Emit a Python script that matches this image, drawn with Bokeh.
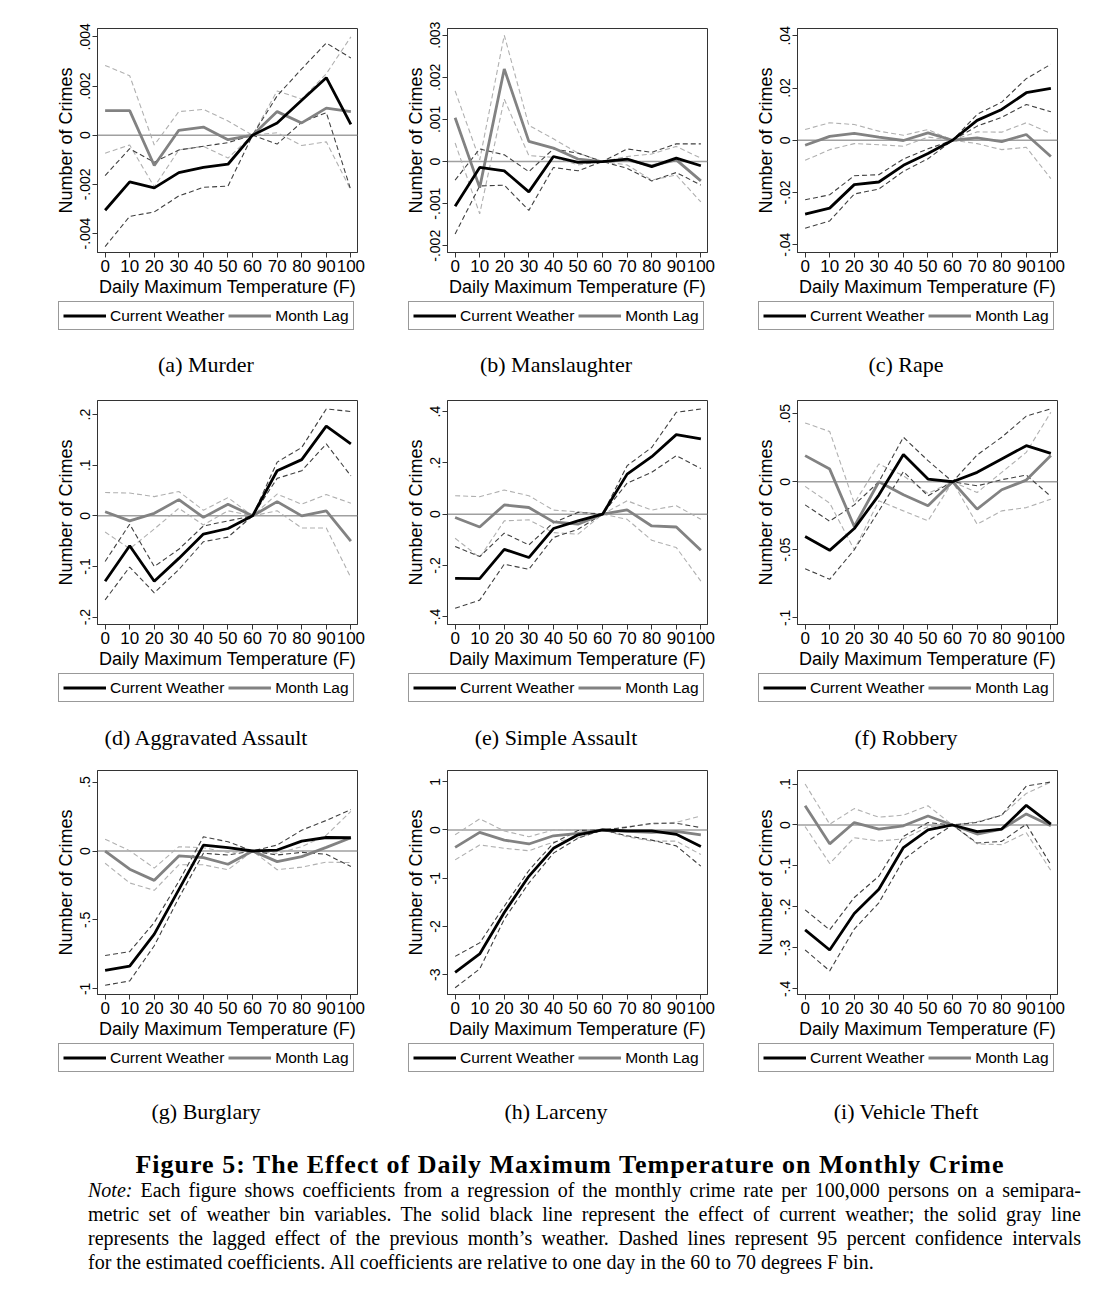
from bokeh.plotting import figure
from bokeh.models import FixedTicker, Legend, LegendItem, Div, Spacer, Span
from bokeh.layouts import column, row
from bokeh.embed import file_html
from bokeh.resources import INLINE

temps = [0, 10, 20, 30, 40, 50, 60, 70, 80, 90, 100]
temp_labels = ["0", "10", "20", "30", "40", "50", "60", "70", "80", "90", "100"]
series_names = ["Current Weather", "Month Lag"]

# ---------------- (a) Murder
murder_cur = [-0.00305, -0.0019, -0.00214, -0.00152, -0.00131, -0.00118, 0, 0.0005, 0.00142, 0.00234, 0.00044]
murder_cur_hi = [-0.00164, -0.00055, -0.0011, -0.0006, -0.00045, -0.0003, 0, 0.0016, 0.0027, 0.00375, 0.00314]
murder_cur_lo = [-0.00453, -0.0033, -0.00312, -0.00247, -0.00212, -0.00207, 0, -0.00036, 0.00053, 0.00092, -0.00223]
murder_lag = [0.001, 0.001, -0.00123, 0.0002, 0.00033, -0.00018, 0, 0.00096, 0.0005, 0.0011, 0.00096]
murder_lag_hi = [0.00284, 0.00242, -0.0004, 0.00096, 0.00105, 0.00058, 0, 0.0018, 0.00147, 0.0025, 0.004]
murder_lag_lo = [-0.00073, -0.0004, -0.0021, -0.0006, -0.00045, -0.00093, 0, 0.0001, -0.00042, -0.00027, -0.00223]
murder_yticks = [-0.004, -0.002, 0, 0.002, 0.004]
murder_ylabels = ["-.004", "-.002", "0", ".002", ".004"]

# ---------------- (b) Manslaughter
mans_cur = [-0.00106, -0.00014, -0.00022, -0.00072, 0.00012, -0.00002, 0, 0.00006, -0.00012, 0.00008, -0.0001]
mans_cur_hi = [-0.00044, 0.0003, 0.00016, -0.00024, 0.0003, 0.0002, 0, 0.0003, 0.00022, 0.00042, 0.00042]
mans_cur_lo = [-0.00172, -0.00058, -0.00056, -0.00116, -0.00014, -0.00022, 0, -0.00016, -0.00046, -0.00026, -0.00056]
mans_lag = [0.00104, -0.00062, 0.0022, 0.00048, 0.00032, 0.00006, 0, 0.00004, -0.0001, 0.00004, -0.00046]
mans_lag_hi = [0.00168, 0.00004, 0.003, 0.00086, 0.00054, 0.0002, 0, 0.00012, 0.00018, 0.00036, 0.00008]
mans_lag_lo = [0.00044, -0.00124, 0.00148, 0.00014, 0.0001, -0.00008, 0, -0.00008, -0.00044, -0.00032, -0.00096]
mans_yticks = [-0.002, -0.001, 0, 0.001, 0.002, 0.003]
mans_ylabels = ["-.002", "-.001", "0", ".001", ".002", ".003"]

# ---------------- (c) Rape
rape_cur = [-0.0283, -0.026, -0.017, -0.016, -0.0096, -0.0051, 0, 0.0076, 0.0118, 0.0182, 0.0199]
rape_cur_hi = [-0.0228, -0.0209, -0.0136, -0.0132, -0.0072, -0.0033, 0, 0.0099, 0.0146, 0.0236, 0.0291]
rape_cur_lo = [-0.0337, -0.0309, -0.0206, -0.0187, -0.0119, -0.0071, 0, 0.0054, 0.0088, 0.0137, 0.0109]
rape_lag = [-0.0019, 0.0015, 0.0026, 0.0012, -0.0001, 0.0028, 0, 0.0009, -0.0005, 0.0022, -0.0062]
rape_lag_hi = [0.0041, 0.0067, 0.006, 0.0035, 0.0019, 0.0041, 0, 0.0032, 0.0031, 0.0067, 0.0026]
rape_lag_lo = [-0.0077, -0.0036, -0.0013, -0.0017, -0.0023, 0.0012, 0, -0.0013, -0.0036, -0.0027, -0.0147]
rape_yticks = [-0.04, -0.02, 0, 0.02, 0.04]
rape_ylabels = ["-.04", "-.02", "0", ".02", ".04"]

# ---------------- (d) Aggravated Assault
agg_cur = [-0.129, -0.059, -0.129, -0.084, -0.036, -0.025, 0, 0.089, 0.111, 0.177, 0.142]
agg_cur_hi = [-0.09, -0.0165, -0.1, -0.066, -0.02, -0.01, 0, 0.106, 0.135, 0.211, 0.206]
agg_cur_lo = [-0.166, -0.101, -0.152, -0.106, -0.051, -0.042, 0, 0.074, 0.089, 0.142, 0.079]
agg_lag = [0.008, -0.01, 0.005, 0.032, -0.003, 0.023, 0, 0.028, 0.0, 0.01, -0.05]
agg_lag_hi = [0.046, 0.045, 0.038, 0.048, 0.011, 0.036, 0, 0.043, 0.023, 0.042, 0.025]
agg_lag_lo = [-0.032, -0.065, -0.026, 0.015, -0.018, 0.01, 0, 0.01, -0.024, -0.024, -0.122]
agg_yticks = [-0.2, -0.1, 0, 0.1, 0.2]
agg_ylabels = ["-.2", "-.1", "0", ".1", ".2"]

# ---------------- (e) Simple Assault
simp_cur = [-0.25, -0.251, -0.137, -0.169, -0.056, -0.026, 0, 0.156, 0.224, 0.31, 0.293]
simp_cur_hi = [-0.126, -0.165, -0.074, -0.12, -0.033, 0.007, 0, 0.189, 0.26, 0.397, 0.41]
simp_cur_lo = [-0.367, -0.335, -0.195, -0.215, -0.091, -0.059, 0, 0.121, 0.163, 0.228, 0.178]
simp_lag = [-0.013, -0.05, 0.036, 0.026, -0.03, -0.039, 0, 0.017, -0.046, -0.05, -0.141]
simp_lag_hi = [0.072, 0.068, 0.094, 0.072, 0.016, 0.009, 0, 0.052, 0.016, 0.033, -0.02]
simp_lag_lo = [-0.094, -0.169, -0.026, -0.022, -0.072, -0.078, 0, -0.02, -0.102, -0.13, -0.261]
simp_yticks = [-0.4, -0.2, 0, 0.2, 0.4]
simp_ylabels = ["-.4", "-.2", "0", ".2", ".4"]

# ---------------- (f) Robbery
rob_cur = [-0.0403, -0.0504, -0.0344, -0.0098, 0.02, 0.002, 0, 0.0069, 0.0167, 0.0265, 0.0209]
rob_cur_hi = [-0.017, -0.029, -0.017, 0.0, 0.0327, 0.0155, 0, 0.0197, 0.0327, 0.0482, 0.0536]
rob_cur_lo = [-0.0639, -0.0717, -0.05, -0.0214, 0.0074, -0.0103, 0, -0.003, 0.0015, 0.0049, -0.0108]
rob_lag = [0.0192, 0.0093, -0.0329, 0.0, -0.0096, -0.0177, 0, -0.0201, -0.0059, 0.0012, 0.0192]
rob_lag_hi = [0.0432, 0.0369, -0.0157, 0.013, 0.0044, -0.0086, 0, -0.0079, 0.0069, 0.0216, 0.0511]
rob_lag_lo = [-0.0034, -0.0157, -0.05, -0.014, -0.0214, -0.0287, 0, -0.0312, -0.0214, -0.019, -0.0128]
rob_yticks = [-0.1, -0.05, 0, 0.05]
rob_ylabels = ["-.1", "-.05", "0", ".05"]

# ---------------- (g) Burglary
burg_cur = [-0.866, -0.835, -0.603, -0.28, 0.043, 0.024, 0, 0.007, 0.072, 0.098, 0.096]
burg_cur_hi = [-0.758, -0.73, -0.519, -0.22, 0.103, 0.067, 0, 0.043, 0.151, 0.222, 0.301]
burg_cur_lo = [-0.974, -0.943, -0.687, -0.34, -0.017, -0.029, 0, -0.029, -0.01, -0.024, -0.112]
burg_lag = [0.0, -0.132, -0.213, -0.036, -0.048, -0.096, 0, -0.077, -0.041, 0.026, 0.096]
burg_lag_hi = [0.086, 0.002, -0.124, 0.031, 0.024, -0.01, 0, -0.017, 0.031, 0.115, 0.287]
burg_lag_lo = [-0.089, -0.232, -0.285, -0.1, -0.1, -0.136, 0, -0.136, -0.117, -0.081, -0.084]
burg_yticks = [-1, -0.5, 0, 0.5]
burg_ylabels = ["-1", "-.5", "0", ".5"]

# ---------------- (h) Larceny
larc_cur = [-2.95, -2.57, -1.71, -0.96, -0.38, -0.1, 0, -0.02, -0.02, -0.09, -0.34]
larc_cur_hi = [-2.62, -2.34, -1.58, -0.84, -0.27, -0.01, 0, 0.055, 0.14, 0.14, 0.05]
larc_cur_lo = [-3.27, -2.88, -1.85, -1.1, -0.48, -0.17, 0, -0.12, -0.21, -0.33, -0.75]
larc_lag = [-0.36, -0.05, -0.21, -0.29, -0.12, -0.07, 0, -0.03, -0.05, -0.03, -0.1]
larc_lag_hi = [-0.1, 0.23, -0.02, -0.14, 0.0, 0.0, 0, 0.07, 0.12, 0.16, 0.29]
larc_lag_lo = [-0.62, -0.31, -0.38, -0.43, -0.25, -0.16, 0, -0.14, -0.23, -0.23, -0.51]
larc_yticks = [-3, -2, -1, 0, 1]
larc_ylabels = ["-3", "-2", "-1", "0", "1"]

# ---------------- (i) Vehicle Theft
veh_cur = [-0.256, -0.305, -0.216, -0.157, -0.055, -0.012, 0, -0.016, -0.01, 0.048, 0.002]
veh_cur_hi = [-0.207, -0.256, -0.177, -0.125, -0.028, 0.006, 0, 0.006, 0.024, 0.095, 0.105]
veh_cur_lo = [-0.305, -0.356, -0.254, -0.19, -0.085, -0.039, 0, -0.044, -0.04, 0.002, -0.097]
veh_lag = [0.047, -0.046, 0.006, -0.01, -0.002, 0.022, 0, -0.022, -0.01, 0.027, -0.002]
veh_lag_hi = [0.1, 0.002, 0.04, 0.019, 0.024, 0.047, 0, 0.008, 0.024, 0.077, 0.105]
veh_lag_lo = [-0.004, -0.094, -0.031, -0.039, -0.034, -0.004, 0, -0.046, -0.048, -0.019, -0.111]
veh_yticks = [-0.4, -0.3, -0.2, -0.1, 0, 0.1]
veh_ylabels = ["-.4", "-.3", "-.2", "-.1", "0", ".1"]

captions = ["(a) Murder", "(b) Manslaughter", "(c) Rape",
            "(d) Aggravated Assault", "(e) Simple Assault", "(f) Robbery",
            "(g) Burglary", "(h) Larceny", "(i) Vehicle Theft"]

# y-axis extents
y_limits = [(-0.00477, 0.00434), (-0.00216, 0.00316), (-0.043, 0.0428),
            (-0.2145, 0.2277), (-0.43, 0.443), (-0.1049, 0.0597),
            (-1.041, 0.584), (-3.41, 1.233), (-0.4137, 0.133)]

panels = [
    (murder_cur, murder_cur_hi, murder_cur_lo, murder_lag, murder_lag_hi, murder_lag_lo, murder_yticks, murder_ylabels),
    (mans_cur, mans_cur_hi, mans_cur_lo, mans_lag, mans_lag_hi, mans_lag_lo, mans_yticks, mans_ylabels),
    (rape_cur, rape_cur_hi, rape_cur_lo, rape_lag, rape_lag_hi, rape_lag_lo, rape_yticks, rape_ylabels),
    (agg_cur, agg_cur_hi, agg_cur_lo, agg_lag, agg_lag_hi, agg_lag_lo, agg_yticks, agg_ylabels),
    (simp_cur, simp_cur_hi, simp_cur_lo, simp_lag, simp_lag_hi, simp_lag_lo, simp_yticks, simp_ylabels),
    (rob_cur, rob_cur_hi, rob_cur_lo, rob_lag, rob_lag_hi, rob_lag_lo, rob_yticks, rob_ylabels),
    (burg_cur, burg_cur_hi, burg_cur_lo, burg_lag, burg_lag_hi, burg_lag_lo, burg_yticks, burg_ylabels),
    (larc_cur, larc_cur_hi, larc_cur_lo, larc_lag, larc_lag_hi, larc_lag_lo, larc_yticks, larc_ylabels),
    (veh_cur, veh_cur_hi, veh_cur_lo, veh_lag, veh_lag_hi, veh_lag_lo, veh_yticks, veh_ylabels),
]

SANS = "Liberation Sans"
SERIF = "Liberation Serif"
FRAME = "#333333"
CUR_STYLE = dict(line_color="black", line_width=2.8)
LAG_STYLE = dict(line_color="#828282", line_width=2.8)


def make_panel(idx, top_border):
    cur, cur_hi, cur_lo, lag, lag_hi, lag_lo, yt, yl = panels[idx]
    lo, hi = y_limits[idx]
    p = figure(frame_width=260, frame_height=224, x_range=(-3.1, 102.7), y_range=(lo, hi),
               output_backend="svg", toolbar_location=None,
               min_border_left=77, min_border_right=13, min_border_top=top_border,
               min_border_bottom=49)
    p.background_fill_color = "white"
    p.border_fill_color = "white"
    p.outline_line_color = FRAME
    p.outline_line_width = 1
    p.grid.visible = False

    zero = Span(location=0, dimension="width", line_color="#a0a0a0", line_width=1.5, level="underlay")
    p.add_layout(zero)

    p.line(temps, lag_hi, line_color="#b0b0b0", line_width=1.1, line_dash="5 3")
    p.line(temps, lag_lo, line_color="#b0b0b0", line_width=1.1, line_dash="5 3")
    p.line(temps, cur_hi, line_color="#404040", line_width=1.1, line_dash="5 3")
    p.line(temps, cur_lo, line_color="#404040", line_width=1.1, line_dash="5 3")
    p.line(temps, lag, **LAG_STYLE)
    p.line(temps, cur, **CUR_STYLE)

    p.xaxis.ticker = FixedTicker(ticks=temps)
    p.xaxis.major_label_overrides = {t: s for t, s in zip(temps, temp_labels)}
    p.xaxis.axis_label = "Daily Maximum Temperature (F)"
    p.yaxis.ticker = FixedTicker(ticks=yt)
    p.yaxis.major_label_overrides = {t: s for t, s in zip(yt, yl)}
    p.yaxis.axis_label = "Number of Crimes"
    p.yaxis.major_label_orientation = "vertical"
    for ax in (p.xaxis, p.yaxis):
        ax.axis_line_color = FRAME
        ax.major_tick_line_color = FRAME
        ax.major_tick_out = 5
        ax.major_tick_in = 0
        ax.minor_tick_line_color = None
        ax.major_label_text_font = SANS
        ax.major_label_text_color = "black"
        ax.axis_label_text_font = SANS
        ax.axis_label_text_font_style = "normal"
        ax.axis_label_text_color = "black"
        ax.axis_label_text_font_size = "18px"
        ax.major_label_standoff = 2
        ax.axis_label_standoff = 2
    p.xaxis.major_label_text_font_size = "17px"
    p.yaxis.major_label_text_font_size = "14px"
    return p


def make_legend(idx):
    # legend strip: its renderers use the panel's own series but lie outside the strip's range
    cur, lag = panels[idx][0], panels[idx][3]
    q = figure(width=350, height=31, x_range=(-300, -200), y_range=(0, 1),
               x_axis_type=None, y_axis_type=None, output_backend="svg",
               toolbar_location=None, min_border=0)
    q.min_border_left = q.min_border_right = q.min_border_top = q.min_border_bottom = 0
    q.outline_line_color = None
    q.grid.visible = False
    r1 = q.line(temps, cur, **CUR_STYLE)
    r2 = q.line(temps, lag, **LAG_STYLE)
    legend = Legend(items=[LegendItem(label=series_names[0], renderers=[r1]),
                           LegendItem(label=series_names[1], renderers=[r2])],
                    location=(38, 2), orientation="horizontal")
    legend.label_text_font = SANS
    legend.label_text_font_size = "15.5px"
    legend.label_text_color = "black"
    legend.glyph_width = 43
    legend.glyph_height = 19
    legend.label_height = 19
    legend.label_standoff = 4
    legend.spacing = 4
    legend.padding = 4
    legend.margin = 0
    legend.border_line_color = FRAME
    legend.border_line_width = 1
    legend.background_fill_color = "white"
    legend.background_fill_alpha = 1
    q.add_layout(legend)
    return q


def caption_row(start, h, pad):
    divs = [Spacer(width=31, height=h, margin=0)]
    for k in range(3):
        html = (f'<div style="padding-top:{pad}px; line-height:22px; text-align:center; '
                f'font-family:\'{SERIF}\'; font-size:22px; color:black; width:350px;">'
                f'{captions[start + k]}</div>')
        divs.append(Div(text=html, width=350, height=h, margin=0))
    return row(*divs, spacing=0)


rows = []
tops = [28, 20, 18]
cap_h = [48, 48, 55]
cap_pad = [22, 23, 27]
for r in range(3):
    figs = [make_panel(r * 3 + c, tops[r]) for c in range(3)]
    rows.append(row(Spacer(width=20, margin=0), *figs, spacing=0))
    legs = [make_legend(r * 3 + c) for c in range(3)]
    rows.append(row(Spacer(width=20, margin=0), *legs, spacing=0))
    rows.append(caption_row(r * 3, cap_h[r], cap_pad[r]))

title_text = "Figure 5: The Effect of Daily Maximum Temperature on Monthly Crime"
note_lines = [
    "<i>Note:</i> Each figure shows coefficients from a regression of the monthly crime rate per 100,000 persons on a semipara-",
    "metric set of weather bin variables. The solid black line represent the effect of current weather; the solid gray line",
    "represents the lagged effect of the previous month\u2019s weather. Dashed lines represent 95 percent confidence intervals",
    "for the estimated coefficients. All coefficients are relative to one day in the 60 to 70 degrees F bin.",
]
lines_html = ""
for k, ln in enumerate(note_lines):
    last = "left" if k == len(note_lines) - 1 else "justify"
    lines_html += (f'<div style="text-align:justify; text-align-last:{last}; white-space:normal;">'
                   f'{ln}</div>')
bottom_html = (
    '<div style="position:relative; width:1100px; height:150px; color:black;">'
    f'<div style="position:absolute; top:22px; left:0; width:1140px; text-align:center; '
    f'font-family:\'{SERIF}\'; font-weight:bold; font-size:26px; letter-spacing:1px; line-height:28px;">{title_text}</div>'
    f'<div style="position:absolute; top:49px; left:88px; width:993px; '
    f'font-family:\'{SERIF}\'; font-size:20px; line-height:24px;">{lines_html}</div>'
    '</div>'
)
bottom = Div(text=bottom_html, width=1100, height=165, margin=0)
rows.append(bottom)

page = column(*rows, spacing=0)

open("out.html", "w").write(file_html(page, INLINE))
